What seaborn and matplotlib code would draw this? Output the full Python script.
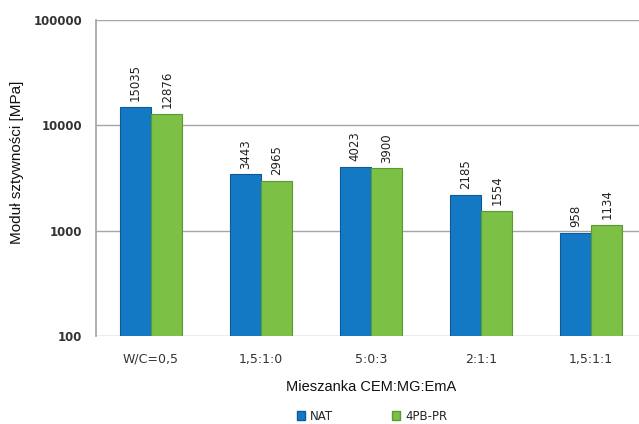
import matplotlib
matplotlib.use("Agg")
import matplotlib.pyplot as plt
from matplotlib.ticker import FixedLocator, NullLocator
import seaborn as sns
import pandas as pd

categories = ["W/C=0,5", "1,5:1:0", "5:0:3", "2:1:1", "1,5:1:1"]
series_names = ["NAT", "4PB-PR"]
nat_values = [15035, 3443, 4023, 2185, 958]
pb_values = [12876, 2965, 3900, 1554, 1134]
y_ticks = [100, 1000, 10000, 100000]
y_tick_labels = ["100", "1000", "10000", "100000"]

df = pd.DataFrame({
    "Mieszanka": categories * 2,
    "Seria": [series_names[0]] * len(categories) + [series_names[1]] * len(categories),
    "Moduł": nat_values + pb_values,
})

sns.set_theme(style="white")
plt.rcParams["font.family"] = ["DejaVu Sans"]

colors = {"NAT": "#1479c4", "4PB-PR": "#7cc046"}
edges = {"NAT": "#0d5a96", "4PB-PR": "#5a9a2e"}

fig = plt.figure(figsize=(6.39, 4.24), dpi=100)
ax = fig.add_axes([96 / 639, 88 / 424, 550 / 639, 316 / 424])

sns.barplot(data=df, x="Mieszanka", y="Moduł", hue="Seria", order=categories,
            hue_order=series_names, palette=colors, width=0.57, ax=ax,
            legend=False, saturation=1)

ax.set_yscale("log")
ax.set_ylim(100, 100000)
ax.set_xlim(-0.5, 4.5)
ax.yaxis.set_major_locator(FixedLocator(y_ticks))
ax.yaxis.set_minor_locator(NullLocator())
ax.set_yticklabels(y_tick_labels, fontsize=8.5, fontweight="bold", color="#333333")
ax.tick_params(axis="y", length=0, pad=10)
ax.tick_params(axis="x", length=0, pad=12, labelsize=9, labelcolor="#333333")
ax.grid(axis="y", color="#a6a6a6", linewidth=1.0)
ax.set_axisbelow(True)
for side in ["top", "right", "bottom"]:
    ax.spines[side].set_visible(False)
ax.spines["left"].set_color("#a6a6a6")

for container, name, vals in zip(ax.containers, series_names, [nat_values, pb_values]):
    for bar in container:
        bar.set_edgecolor(edges[name])
        bar.set_linewidth(0.8)
    ax.bar_label(container, labels=[str(v) for v in vals], rotation=90,
                 padding=4, fontsize=8.5, color="#222222")

ax.set_ylabel("Moduł sztywności [MPa]", family="Liberation Sans", fontsize=11,
              color="#111111")
ax.yaxis.set_label_coords(-72 / 550, 0.55)
ax.set_xlabel("Mieszanka CEM:MG:EmA", family="Liberation Sans", fontsize=10.5,
              color="#111111", labelpad=10)

handles = [plt.Rectangle((0, 0), 1, 1, facecolor=colors[n], edgecolor=edges[n])
           for n in series_names]
fig.legend(handles, series_names, loc="center", bbox_to_anchor=(372 / 639, 1 - 416 / 424),
           ncol=2, frameon=False, fontsize=8.5, handlelength=0.7, handleheight=0.7,
           columnspacing=5.0, handletextpad=0.4)

fig.savefig("out.png", dpi=100)
